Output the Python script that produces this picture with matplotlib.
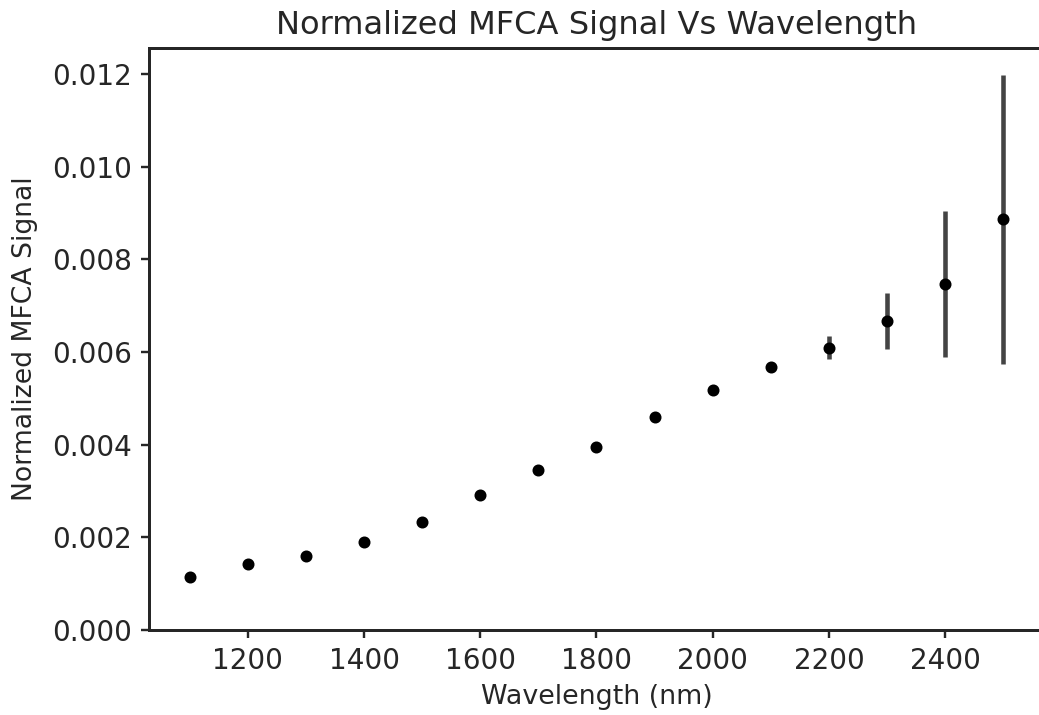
import matplotlib
matplotlib.use("Agg")
import matplotlib.pyplot as plt

# Measured MFCA signal (normalized) at each excitation wavelength
wavelength_nm = [1100, 1200, 1300, 1400, 1500, 1600, 1700, 1800, 1900,
                 2000, 2100, 2200, 2300, 2400, 2500]
signal = [0.00114, 0.00143, 0.00160, 0.00189, 0.00234, 0.00292, 0.00345,
          0.00396, 0.00460, 0.00517, 0.00568, 0.00609, 0.00667, 0.00747,
          0.00886]
signal_err = [0.0, 0.0, 0.0, 0.0, 0.0, 0.0, 0.0, 0.0, 0.0,
              0.00002, 0.00005, 0.00025, 0.00060, 0.00157, 0.00311]

text_color = "#262626"
plt.rcParams.update({
    "font.family": "DejaVu Sans",
    "text.color": text_color,
    "axes.labelcolor": text_color,
    "xtick.color": text_color,
    "ytick.color": text_color,
    "axes.edgecolor": text_color,
})

dpi = 172.8
fig = plt.figure(figsize=(1039 / dpi, 715 / dpi), dpi=dpi)
ax = fig.add_axes([149 / 1039, 1 - 630 / 715, (1044 - 149) / 1039, (630 - 48) / 715])

ax.errorbar(wavelength_nm, signal, yerr=signal_err, fmt="o", color="black",
            ecolor="#444444", elinewidth=1.9, markersize=4.0, capsize=0)

ax.set_xlim(1030, 2570)
ax.set_ylim(0, 0.01256)
ax.set_xticks([1200, 1400, 1600, 1800, 2000, 2200, 2400])
ax.set_yticks([0.000, 0.002, 0.004, 0.006, 0.008, 0.010, 0.012])
ax.set_yticklabels([f"{v:.3f}" for v in ax.get_yticks()])

for side in ax.spines.values():
    side.set_linewidth(1.25)
ax.spines["right"].set_visible(False)
ax.tick_params(direction="out", length=3.5, width=1.0, labelsize=11.6)

ax.set_xlabel("Wavelength (nm)", fontsize=11.2)
ax.set_ylabel("Normalized MFCA Signal", fontsize=11.1, labelpad=6)
ax.set_title("Normalized MFCA Signal Vs Wavelength", fontsize=13.4)

fig.savefig("out.png", dpi=dpi)
